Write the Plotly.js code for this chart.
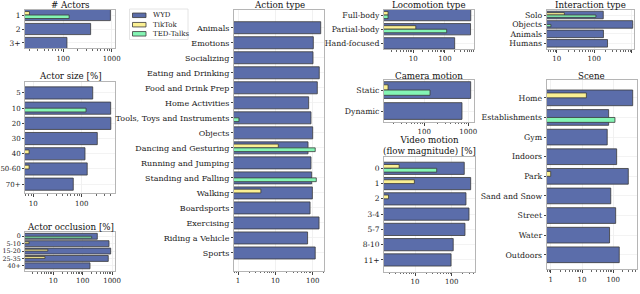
<!DOCTYPE html>
<html>
<head>
<meta charset="utf-8">
<script src="https://cdn.plot.ly/plotly-3.0.1.min.js"></script>
<style>html,body{margin:0;padding:0;background:#fff;}#chart{width:640px;height:294px;}</style>
</head>
<body>
<div id="chart"></div>
<script>
// ---------------- DATA ----------------
const seriesNames = ['WYD', 'TikTok', 'TED-Talks'];

const actorsCats = ['1', '2', '3+'];
const actorsWYD = [940, 367, 119];
const actorsTikTok = [20, null, null];
const actorsTED = [132, null, null];

const sizeCats = ['5', '10', '20', '30', '40', '50-60', '70+'];
const sizeWYD = [169, 397, 400, 210, 117, 130, 67];
const sizeTikTok = [null, null, null, null, 8.2, 8.2, null];
const sizeTED = [null, 123, null, null, null, null, null];

const occlCats = ['0', '5-10', '15-20', '25-35', '40+'];
const occlWYD = [314, 785, 895, 740, 177];
const occlTikTok = [null, 1.5, 6.5, 5.2, null];
const occlTED = [202, null, null, null, null];

const actionCats = ['Animals', 'Emotions', 'Socializing', 'Eating and Drinking', 'Food and Drink Prep',
  'Home Activities', 'Tools, Toys and Instruments', 'Objects', 'Dancing and Gesturing',
  'Running and Jumping', 'Standing and Falling', 'Walking', 'Boardsports', 'Exercising',
  'Riding a Vehicle', 'Sports'];
const actionWYD = [164, 104, 102, 150, 133, 78, 90, 100, 75, 90, 94, 98, 85, 148, 73, 117];
const actionTikTok = [null, null, null, null, null, null, null, null, 12, null, null, 4.1, null, null, null, null];
const actionTED = [null, null, null, null, null, null, 1.06, null, 117, null, 125, null, null, null, null, null];

const locoCats = ['Full-body', 'Partial-body', 'Hand-focused'];
const locoWYD = [650, 640, 202];
const locoTikTok = [1.6, 12, null];
const locoTED = [1.6, 113, null];

const camCats = ['Static', 'Dynamic'];
const camWYD = [1134, 719];
const camTikTok = [15, null];
const camTED = [135, null];

const motionCats = ['0', '1', '2', '3-4', '5-7', '8-10', '11+'];
const motionWYD = [220, 329, 245, 296, 230, 110, 96];
const motionTikTok = [3.7, 9.6, 1.9, null, null, null, null];
const motionTED = [39, null, null, null, null, null, null];

const interCats = ['Solo', 'Objects', 'Animals', 'Humans'];
const interWYD = [174, 1060, 176, 226];
const interTikTok = [16, null, null, null];
const interTED = [111, 7, null, null];

const sceneCats = ['Home', 'Establishments', 'Gym', 'Indoors', 'Park', 'Sand and Snow', 'Street', 'Water', 'Outdoors'];
const sceneWYD = [417, 71, 64, 128, 302, 83, 119, 76, 155];
const sceneTikTok = [13.8, null, null, null, 1.0, null, null, null, null];
const sceneTED = [null, 113, null, null, null, null, null, null, null];

const tickVals = [1, 10, 100, 1000];
const tickText = ['1', '10', '100', '1000'];

// ---------------- LAYOUT GEOMETRY (pixels) ----------------
const W = 640, H = 294;
const panels = [
  {title: '# Actors', cats: actorsCats, d: [actorsWYD, actorsTikTok, actorsTED], px: [25, 115], py: [10, 48.3], xr: [1.209, 3.068], pad: [0.36, 0.38], fs: 7.5},
  {title: 'Actor size [%]', cats: sizeCats, d: [sizeWYD, sizeTikTok, sizeTED], px: [25, 115], py: [81.7, 193.3], xr: [0.829, 2.688], pad: [0.74, 0.6], fs: 7},
  {title: 'Actor occlusion [%]', cats: occlCats, d: [occlWYD, occlTikTok, occlTED], px: [25, 115], py: [231.7, 271], xr: [0.037, 3.099], pad: [0.62, 0.7], fs: 6.3},
  {title: 'Action type', cats: actionCats, d: [actionWYD, actionTikTok, actionTED], px: [234, 324.3], py: [10, 270.7], xr: [-0.107, 2.311], pad: [1.18, 1.18], fs: 8},
  {title: 'Locomotion type', cats: locoCats, d: [locoWYD, locoTikTok, locoTED], px: [384, 474], py: [10, 49], xr: [0.076, 2.915], pad: [0.36, 0.4], fs: 7.8},
  {title: 'Camera motion', cats: camCats, d: [camWYD, camTikTok, camTED], px: [384, 474], py: [80, 121.7], xr: [1.084, 3.13], pad: [0.48, 0.51], fs: 7.8},
  {title: 'Video motion<br>(flow magnitude) [%]', cats: motionCats, d: [motionWYD, motionTikTok, motionTED], px: [384, 475], py: [156.7, 271.7], xr: [0.155, 2.635], pad: [0.76, 0.77], fs: 7.5},
  {title: 'Interaction type', cats: interCats, d: [interWYD, interTikTok, interTED], px: [546.7, 634], py: [10, 49], xr: [0.733, 3.06], pad: [0.53, 0.6], fs: 7.8},
  {title: 'Scene', cats: sceneCats, d: [sceneWYD, sceneTikTok, sceneTED], px: [546.7, 636.7], py: [80, 269.3], xr: [-0.128, 2.748], pad: [0.91, 0.74], fs: 7.8}
];
const titleY = [5, 76, 226.7, 5, 5, 76, 145, 5, 76];

const colors = ['#5b6daa', '#fbf093', '#84f5b4'];
const offsets = [-0.4, -0.25, 0];
const widths = [0.8, 0.25, 0.25];
const font = 'DejaVu Serif';

const minorVals = [];
for (let e = -1; e <= 3; e++) for (let m = 2; m <= 9; m++) minorVals.push(m * Math.pow(10, e));

const traces = [];
const layout = {
  width: W, height: H,
  margin: {l: 0, r: 0, t: 0, b: 0},
  paper_bgcolor: '#fff', plot_bgcolor: '#fff',
  barmode: 'overlay',
  font: {family: font, size: 8, color: '#222'},
  showlegend: false,
  annotations: [],
  shapes: []
};

panels.forEach((p, i) => {
  const n = i + 1;
  const xa = 'x' + (n === 1 ? '' : n), ya = 'y' + (n === 1 ? '' : n);
  p.d.forEach((vals, s) => {
    traces.push({
      type: 'bar', orientation: 'h', x: vals, y: p.cats,
      xaxis: xa, yaxis: ya, name: seriesNames[s],
      offset: offsets[s], width: widths[s],
      marker: {color: colors[s], line: {color: '#3a3a3a', width: 0.8}},
      hoverinfo: 'skip'
    });
  });
  const nc = p.cats.length;
  layout['xaxis' + (n === 1 ? '' : n)] = {
    type: 'log', range: p.xr, domain: [p.px[0] / W, p.px[1] / W], anchor: ya,
    tickmode: 'array', tickvals: tickVals, ticktext: tickText,
    ticks: 'outside', ticklen: 3, tickcolor: '#444', tickfont: {family: font, size: 7},
    showline: true, mirror: true, linecolor: '#b5b5b5', linewidth: 1,
    showgrid: true, gridcolor: '#eeeeee', gridwidth: 0.8, zeroline: false,
    minor: {tickmode: 'array', tickvals: minorVals, ticks: 'outside', ticklen: 1.5, tickcolor: '#666', showgrid: false},
    fixedrange: true
  };
  layout['yaxis' + (n === 1 ? '' : n)] = {
    type: 'category', categoryorder: 'array', categoryarray: p.cats,
    tickmode: 'array', tickvals: p.cats, ticktext: p.cats,
    range: [nc - 1 + p.pad[1], -p.pad[0]],
    domain: [1 - p.py[1] / H, 1 - p.py[0] / H], anchor: xa,
    ticks: 'outside', ticklen: 2, tickcolor: '#444', tickfont: {family: font, size: p.fs},
    showline: true, mirror: true, linecolor: '#b5b5b5', linewidth: 1,
    showgrid: true, gridcolor: '#f0f0f0', gridwidth: 0.8, zeroline: false,
    fixedrange: true
  };
  layout.annotations.push({
    text: p.title, xref: 'paper', yref: 'paper',
    x: (p.px[0] + p.px[1]) / 2 / W, y: 1 - titleY[i] / H,
    xanchor: 'center', yanchor: 'middle', showarrow: false,
    font: {family: font, size: 8.7, color: '#111'}
  });
});

// ---------------- LEGEND (drawn as a small key box) ----------------
const leg = {x0: 129.5, x1: 188, y0: 9, y1: 39.5, sx0: 132.5, sx1: 146, sh: 4.5, tx: 151, rows: [15.3, 24.7, 33.8]};
layout.shapes.push({type: 'rect', xref: 'paper', yref: 'paper',
  x0: leg.x0 / W, x1: leg.x1 / W, y0: 1 - leg.y1 / H, y1: 1 - leg.y0 / H,
  line: {color: '#dddddd', width: 0.8}, fillcolor: 'rgba(255,255,255,0.85)', layer: 'above'});
seriesNames.forEach((name, s) => {
  const cy = leg.rows[s];
  layout.shapes.push({type: 'rect', xref: 'paper', yref: 'paper',
    x0: leg.sx0 / W, x1: leg.sx1 / W, y0: 1 - (cy + leg.sh / 2) / H, y1: 1 - (cy - leg.sh / 2) / H,
    line: {color: '#3a3a3a', width: 0.8}, fillcolor: colors[s], layer: 'above'});
  layout.annotations.push({text: name, xref: 'paper', yref: 'paper', x: leg.tx / W, y: 1 - cy / H,
    xanchor: 'left', yanchor: 'middle', showarrow: false, font: {family: font, size: 7, color: '#222'}});
});

Plotly.newPlot('chart', traces, layout, {staticPlot: true, displayModeBar: false});
</script>
</body>
</html>
